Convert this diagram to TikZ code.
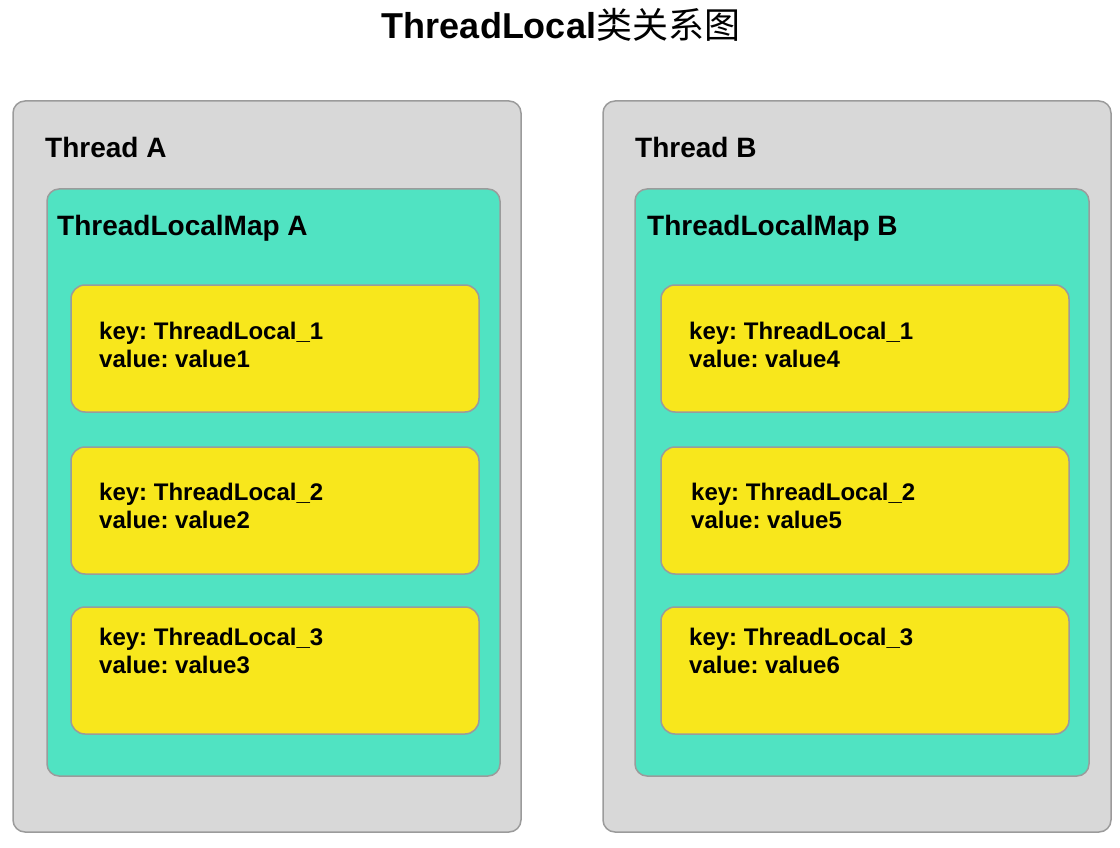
\documentclass[tikz,border=0pt]{standalone}
\usepackage{fontspec}
\setmainfont{Liberation Sans}
\newfontfamily\cjk{Noto Sans CJK SC}
\usepackage{tikz}
\usetikzlibrary{
  positioning,
}
\frenchspacing
\definecolor{threadgray}{HTML}{D8D8D8}
\definecolor{mapgreen}{HTML}{50E3C2}
\definecolor{entryyellow}{HTML}{F8E71C}
\definecolor{bordergray}{HTML}{9B9B9B}
\tikzstyle{threadbox} = [
  draw=bordergray,
  line width=1.5pt,
  fill=threadgray,
  rounded corners=12pt,
  inner sep=0pt,
  outer sep=0pt,
  minimum width=508pt,
  minimum height=731pt,
  anchor=north west,
]
\tikzstyle{mapbox} = [
  draw=bordergray,
  line width=1.5pt,
  fill=mapgreen,
  rounded corners=12pt,
  inner sep=0pt,
  outer sep=0pt,
  minimum width=453pt,
  minimum height=587pt,
  anchor=north west,
]
\tikzstyle{entrybox} = [
  draw=bordergray,
  line width=1.5pt,
  fill=entryyellow,
  rounded corners=14pt,
  inner sep=0pt,
  outer sep=0pt,
  minimum width=408pt,
  minimum height=127pt,
  anchor=north west,
]
\tikzstyle{boxlabel} = [
  inner sep=0pt,
  anchor=base west,
  font=\fontsize{28}{32}\selectfont\bfseries,
]
\tikzstyle{entrytext} = [
  inner sep=0pt,
  anchor=north west,
  align=left,
  font=\fontsize{24}{28}\selectfont\bfseries,
]

\begin{document}
\begin{tikzpicture}[x=1pt,y=-1pt]
        \useasboundingbox (0,0) rectangle (1120,848);

        \node[inner sep=0pt,anchor=base,font=\fontsize{36}{40}\selectfont\bfseries] (title) at (561,39) {ThreadLocal{\cjk\mdseries 类关系图}};

        \node[threadbox] (threadA) at (13,101) {};
        \node[boxlabel] (threadAlabel) at ([shift={(32,57)}]threadA.north west) {Thread A};
        \node[mapbox] (mapA) at ([shift={(34,88)}]threadA.north west) {};
        \node[boxlabel] (mapAlabel) at ([shift={(10,46)}]mapA.north west) {ThreadLocalMap A};
        \node[entrybox] (entryA1) at ([shift={(24,96)}]mapA.north west) {};
        \node[entrybox,below=35pt of entryA1] (entryA2) {};
        \node[entrybox,below=33pt of entryA2] (entryA3) {};
        \node[entrytext] (textA1) at ([shift={(28,37)}]entryA1.north west) {key: ThreadLocal\_1\\value: value1};
        \node[entrytext] (textA2) at ([shift={(28,36)}]entryA2.north west) {key: ThreadLocal\_2\\value: value2};
        \node[entrytext] (textA3) at ([shift={(28,21)}]entryA3.north west) {key: ThreadLocal\_3\\value: value3};

        \node[threadbox] (threadB) at (603,101) {};
        \node[boxlabel] (threadBlabel) at ([shift={(32,57)}]threadB.north west) {Thread B};
        \node[mapbox,minimum width=454pt] (mapB) at ([shift={(32,88)}]threadB.north west) {};
        \node[boxlabel] (mapBlabel) at ([shift={(12,46)}]mapB.north west) {ThreadLocalMap B};
        \node[entrybox] (entryB1) at ([shift={(26,96)}]mapB.north west) {};
        \node[entrybox,below=35pt of entryB1] (entryB2) {};
        \node[entrybox,below=33pt of entryB2] (entryB3) {};
        \node[entrytext] (textB1) at ([shift={(28,37)}]entryB1.north west) {key: ThreadLocal\_1\\value: value4};
        \node[entrytext] (textB2) at ([shift={(30,36)}]entryB2.north west) {key: ThreadLocal\_2\\value: value5};
        \node[entrytext] (textB3) at ([shift={(28,21)}]entryB3.north west) {key: ThreadLocal\_3\\value: value6};

\end{tikzpicture}
\end{document}
